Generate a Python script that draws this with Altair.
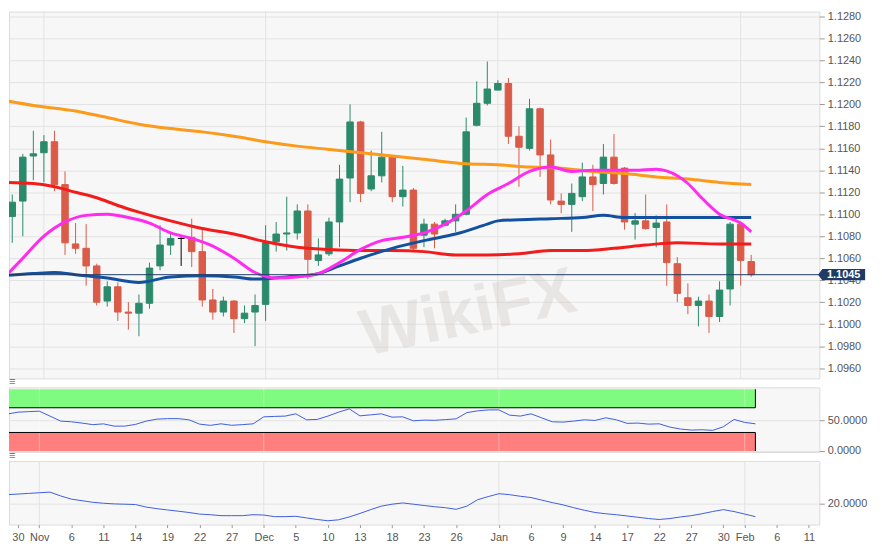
import altair as alt
import pandas as pd

# ---------------- data ----------------
dates = ["2019-10-29", "2019-10-30", "2019-10-31", "2019-11-01", "2019-11-04", "2019-11-05",
         "2019-11-06", "2019-11-07", "2019-11-08", "2019-11-11", "2019-11-12", "2019-11-13",
         "2019-11-14", "2019-11-15", "2019-11-18", "2019-11-19", "2019-11-20", "2019-11-21",
         "2019-11-22", "2019-11-25", "2019-11-26", "2019-11-27", "2019-11-28", "2019-11-29",
         "2019-12-02", "2019-12-03", "2019-12-04", "2019-12-05", "2019-12-06", "2019-12-09",
         "2019-12-10", "2019-12-11", "2019-12-12", "2019-12-13", "2019-12-16", "2019-12-17",
         "2019-12-18", "2019-12-19", "2019-12-20", "2019-12-23", "2019-12-24", "2019-12-25",
         "2019-12-26", "2019-12-27", "2019-12-30", "2019-12-31", "2020-01-01", "2020-01-02",
         "2020-01-03", "2020-01-06", "2020-01-07", "2020-01-08", "2020-01-09", "2020-01-10",
         "2020-01-13", "2020-01-14", "2020-01-15", "2020-01-16", "2020-01-17", "2020-01-20",
         "2020-01-21", "2020-01-22", "2020-01-23", "2020-01-24", "2020-01-27", "2020-01-28",
         "2020-01-29", "2020-01-30", "2020-01-31", "2020-02-03", "2020-02-04"]

opens = [1.1098, 1.1112, 1.1153, 1.1156, 1.1166, 1.1127, 1.1073, 1.1069, 1.1053, 1.1021,
         1.1034, 1.1011, 1.1010, 1.1019, 1.1053, 1.1072, 1.1078, 1.1079, 1.1066, 1.1022,
         1.1011, 1.1021, 1.1005, 1.1011, 1.1018, 1.1075, 1.1082, 1.1083, 1.1103, 1.1058,
         1.1064, 1.1093, 1.1133, 1.1184, 1.1123, 1.1135, 1.1152, 1.1116, 1.1122, 1.1081,
         1.1091, 1.1090, 1.1094, 1.1100, 1.1181, 1.1201, 1.1213, 1.1219, 1.1171, 1.1160,
         1.1196, 1.1154, 1.1112, 1.1109, 1.1116, 1.1134, 1.1128, 1.1152, 1.1142, 1.1091,
         1.1094, 1.1088, 1.1093, 1.1055, 1.1024, 1.1017, 1.1021, 1.1007, 1.1032, 1.1091,
         1.1057]
highs = [1.1118, 1.1155, 1.1176, 1.1172, 1.1176, 1.1139, 1.1092, 1.1091, 1.1055, 1.1039,
         1.1038, 1.1020, 1.1027, 1.1056, 1.1090, 1.1082, 1.1079, 1.1096, 1.1087, 1.1032,
         1.1025, 1.1022, 1.1017, 1.1027, 1.1090, 1.1093, 1.1116, 1.1109, 1.1109, 1.1078,
         1.1097, 1.1145, 1.1200, 1.1185, 1.1158, 1.1175, 1.1153, 1.1144, 1.1124, 1.1096,
         1.1093, 1.1096, 1.1109, 1.1188, 1.1221, 1.1239, 1.1222, 1.1224, 1.1180, 1.1205,
         1.1197, 1.1168, 1.1119, 1.1128, 1.1147, 1.1145, 1.1164, 1.1173, 1.1143, 1.1101,
         1.1118, 1.1099, 1.1109, 1.1061, 1.1037, 1.1025, 1.1027, 1.1039, 1.1093, 1.1093,
         1.1063]
lows = [1.1074, 1.1080, 1.1131, 1.1129, 1.1121, 1.1063, 1.1064, 1.1035, 1.1017, 1.1016,
        1.1003, 1.0995, 1.0989, 1.1014, 1.1049, 1.1063, 1.1053, 1.1052, 1.1016, 1.1004,
        1.1007, 1.0992, 1.1001, 1.0980, 1.1003, 1.1066, 1.1067, 1.1077, 1.1041, 1.1053,
        1.1062, 1.1070, 1.1111, 1.1111, 1.1121, 1.1129, 1.1111, 1.1107, 1.1067, 1.1070,
        1.1069, 1.1089, 1.1084, 1.1099, 1.1180, 1.1199, 1.1213, 1.1164, 1.1125, 1.1158,
        1.1134, 1.1109, 1.1101, 1.1084, 1.1112, 1.1103, 1.1118, 1.1127, 1.1086, 1.1077,
        1.1086, 1.1070, 1.1035, 1.1020, 1.1009, 1.0998, 1.0992, 1.1002, 1.1017, 1.1035,
        1.1043]
closes = [1.1111, 1.1152, 1.1155, 1.1166, 1.1127, 1.1074, 1.1069, 1.1053, 1.1020, 1.1034,
          1.1011, 1.1010, 1.1019, 1.1051, 1.1072, 1.1078, 1.1078, 1.1066, 1.1022, 1.1011,
          1.1021, 1.1005, 1.1010, 1.1017, 1.1074, 1.1082, 1.1083, 1.1103, 1.1059, 1.1063,
          1.1093, 1.1132, 1.1184, 1.1119, 1.1135, 1.1152, 1.1116, 1.1122, 1.1069, 1.1091,
          1.1082, 1.1094, 1.1100, 1.1175, 1.1201, 1.1214, 1.1219, 1.1171, 1.1161, 1.1196,
          1.1154, 1.1113, 1.1109, 1.1119, 1.1134, 1.1127, 1.1152, 1.1128, 1.1093, 1.1094,
          1.1087, 1.1092, 1.1056, 1.1028, 1.1017, 1.1021, 1.1007, 1.1031, 1.1091, 1.1058,
          1.1045]

# moving averages (point index, value)
ma200_idx = [-2, 1, 5, 8, 11, 14, 17, 20, 23, 26, 29, 32, 35, 38, 42, 45, 48, 51, 54, 57, 60, 63, 66, 69]
ma200 = [1.1204, 1.1199, 1.1194, 1.1188, 1.1182, 1.1178, 1.1175, 1.1171, 1.1166, 1.1162, 1.1159,
         1.1156, 1.1153, 1.1150, 1.1146, 1.1145, 1.1143, 1.1142, 1.1139, 1.1137, 1.1134, 1.1132,
         1.1129, 1.1127]
ma100_idx = [-2, 1, 3, 5, 7, 9, 11, 14, 17, 20, 23, 26, 29, 32, 35, 38, 41, 44, 47, 50, 53, 56, 59, 62, 66, 69]
ma100 = [1.1129, 1.1128, 1.1125, 1.1120, 1.1115, 1.1108, 1.1102, 1.1094, 1.1087, 1.1082, 1.1075,
         1.1070, 1.1068, 1.1067, 1.1067, 1.1066, 1.1063, 1.1063, 1.1064, 1.1067, 1.1067, 1.1069,
         1.1072, 1.1074, 1.1073, 1.1073]
ma55_idx = [-2, 1, 3, 5, 8, 11, 14, 17, 20, 22, 25, 28, 30, 32, 35, 38, 41, 44, 45, 47, 50, 53, 55, 57, 60, 64, 69]
ma55 = [1.1044, 1.1046, 1.1047, 1.1045, 1.1042, 1.1038, 1.1043, 1.1044, 1.1043, 1.1041, 1.1043,
        1.1046, 1.1053, 1.1060, 1.1069, 1.1076, 1.1082, 1.1091, 1.1094, 1.1095, 1.1096, 1.1097,
        1.1099, 1.1097, 1.1097, 1.1097, 1.1097]
ma20_idx = [-2, 0, 2, 4, 6, 8, 10, 12, 14, 16, 18, 20, 22, 24, 26, 28, 30, 32, 34, 36, 38, 40,
            42, 44, 46, 48, 50, 52, 54, 56, 58, 60, 62, 63, 64, 66, 68, 69]
ma20 = [1.1040, 1.1060, 1.1080, 1.1093, 1.1099, 1.1100, 1.1097, 1.1092, 1.1083, 1.1078, 1.1071,
        1.1060, 1.1047, 1.1042, 1.1043, 1.1046, 1.1056, 1.1068, 1.1076, 1.1079, 1.1083, 1.1091,
        1.1103, 1.1118, 1.1128, 1.1139, 1.1143, 1.1139, 1.1140, 1.1140, 1.1140, 1.1141, 1.1135,
        1.1128, 1.1118, 1.1100, 1.1092, 1.1084]

# oscillators, one value per trading day starting two days before the first candle
rsi_vals = [55.6, 59.7, 62.9, 63.7, 64.5, 56.5, 48.4, 47.3, 45.2, 42.7, 43.9, 40.3, 40.3, 43.1,
            48.4, 51.6, 52.4, 52.4, 50.5, 43.5, 41.5, 44.0, 41.6, 42.7, 44.0, 55.3, 56.0, 56.5,
            60.2, 50.5, 51.1, 56.5, 62.9, 68.2, 56.9, 58.5, 60.2, 54.8, 55.3, 48.9, 50.0, 49.7,
            50.8, 52.1, 62.1, 65.0, 66.5, 66.6, 58.1, 56.5, 60.2, 53.7, 47.3, 46.8, 48.4, 50.5,
            49.5, 53.7, 50.5, 44.7, 45.2, 43.5, 44.0, 38.7, 35.5, 33.9, 34.4, 33.4, 39.2, 51.1,
            46.3, 44.0]
adx_vals = [22.7, 22.9, 23.1, 23.3, 23.5, 23.7, 22.5, 21.5, 21.0, 20.5, 20.2, 20.0, 19.9, 19.8,
            19.0, 18.5, 18.1, 17.7, 17.3, 16.8, 16.6, 16.3, 16.3, 16.3, 16.6, 16.5, 16.0, 16.0,
            16.1, 15.6, 15.1, 14.7, 15.0, 15.9, 17.0, 18.2, 19.3, 19.9, 20.3, 19.9, 19.5, 19.1,
            18.8, 18.3, 19.3, 21.3, 22.3, 23.2, 22.9, 22.4, 22.0, 21.2, 20.4, 19.7, 18.8, 18.0,
            17.3, 16.9, 16.6, 16.2, 15.8, 15.4, 15.1, 15.4, 15.9, 16.3, 16.9, 17.6, 18.2, 17.6,
            16.8, 16.0]

tick_idx = [0, 2, 5, 8, 11, 14, 17, 20, 23, 26, 29, 32, 35, 38, 41, 45, 48, 51, 54, 57, 60,
            63, 66, 68, 71, 74]
tick_lab = ["30", "Nov", "6", "11", "14", "19", "22", "27", "Dec", "5", "10", "13", "18", "23",
            "26", "Jan", "6", "9", "14", "17", "22", "27", "30", "Feb", "6", "11"]
month_idx = [2, 23, 45, 68]
price_ticks = [1.0960, 1.0980, 1.1000, 1.1020, 1.1040, 1.1060, 1.1080, 1.1100, 1.1120,
               1.1140, 1.1160, 1.1180, 1.1200, 1.1220, 1.1240, 1.1260, 1.1280]
rsi_ticks = [0, 50]
adx_ticks = [20]
last_price = 1.1045
overbought = {"lo": [70], "hi": [100], "edge": [70]}
oversold = {"lo": [0], "hi": [30], "edge": [30]}

# ---------------- styling ----------------
FONT = "Liberation Sans"
GREEN = "#2b8a6b"
RED = "#d95b48"
NAVY = "#1f3b63"
OSC_BLUE = "#3d5ee0"
GRID = "#e3e3e3"

W = 815
XS = alt.Scale(domain=[-0.837, 74.98], nice=False, zero=False)
YS = alt.Scale(domain=[1.09506, 1.12845], nice=False, zero=False)
RS = alt.Scale(domain=[-1.6, 103], nice=False, zero=False)
AS = alt.Scale(domain=[13.5, 33.5], nice=False, zero=False)

yax = alt.Axis(orient="right", values=price_ticks, format=".4f", tickSize=5, labelPadding=3,
               grid=True, title=None)
rax = alt.Axis(orient="right", values=rsi_ticks, format=".4f", tickSize=5, labelPadding=3,
               grid=True, title=None)
aax = alt.Axis(orient="right", values=adx_ticks, format=".4f", tickSize=5, labelPadding=3,
               grid=True, title=None)

vals_js = "[" + ",".join(str(v) for v in tick_idx) + "]"
labs_js = "[" + ",".join("'" + s + "'" for s in tick_lab) + "]"
xax_bottom = alt.Axis(values=tick_idx, labelExpr=f"{labs_js}[indexof({vals_js}, datum.value)]",
                      grid=False, tickSize=3, labelPadding=4, domain=False, title=None,
                      labelOverlap=False, labelFlush=False)


def X(axis=None, field="idx:Q"):
    return alt.X(field, scale=XS, axis=axis)


n = len(dates)
cdf = pd.DataFrame({"idx": list(range(-1, n - 1)), "date": dates, "open": opens,
                    "high": highs, "low": lows, "close": closes})
cdf["dir"] = ["up" if c > o else ("down" if c < o else "flat") for o, c in zip(opens, closes)]
cscale = alt.Scale(domain=["up", "down", "flat"], range=[GREEN, RED, "#000000"])
mdf = pd.DataFrame({"idx": month_idx})
first_idx = -2
last_idx = n - 2

# ---------------- main price panel ----------------
months_main = alt.Chart(mdf).mark_rule(color=GRID, strokeWidth=1).encode(x=X())
wick = alt.Chart(cdf).mark_rule(strokeWidth=1, clip=True).encode(
    x=X(), y=alt.Y("low:Q", scale=YS, axis=yax), y2="high:Q",
    color=alt.Color("dir:N", scale=cscale, legend=None))
body = alt.Chart(cdf).mark_bar(width=6.5, clip=True, strokeWidth=1).encode(
    x=X(), y=alt.Y("open:Q", scale=YS, axis=yax), y2="close:Q",
    color=alt.Color("dir:N", scale=cscale, legend=None),
    stroke=alt.Stroke("dir:N", scale=cscale, legend=None))


def ma_line(ix, vals, color):
    df = pd.DataFrame({"idx": ix, "v": vals})
    return alt.Chart(df).mark_line(color=color, strokeWidth=3, clip=True,
                                   interpolate="monotone").encode(
        x=X(), y=alt.Y("v:Q", scale=YS, axis=yax))


l200 = ma_line(ma200_idx, ma200, "#fb9a1b")
l100 = ma_line(ma100_idx, ma100, "#f21c1c")
l55 = ma_line(ma55_idx, ma55, "#1450a0")
l20 = ma_line(ma20_idx, ma20, "#ff2cf0")

pdf = pd.DataFrame({"p": [last_price]})
prule = alt.Chart(pdf).mark_rule(color=NAVY, strokeWidth=1).encode(
    y=alt.Y("p:Q", scale=YS, axis=yax))
BOX = "M -1 0 L -0.82 -0.24 L 1 -0.24 L 1 0.24 L -0.82 0.24 Z"
pbox = alt.Chart(pdf).mark_point(shape=BOX, size=2237, filled=True, fill=NAVY, opacity=1,
                                 strokeWidth=0).encode(
    x=alt.value(837.4), y=alt.Y("p:Q", scale=YS, axis=yax))
ptxt = alt.Chart(pdf).mark_text(color="white", fontWeight="bold", fontSize=11, font=FONT,
                                align="center", baseline="middle").encode(
    x=alt.value(839.5), y=alt.Y("p:Q", scale=YS, axis=yax), text=alt.Text("p:Q", format=".4f"))
wm = alt.Chart(pd.DataFrame({"t": ["WikiFX"]})).mark_text(
    font=FONT, fontSize=66, fontWeight="bold", color="#c9c1b9", opacity=0.3, angle=348,
    align="center", baseline="middle").encode(x=alt.value(462), y=alt.value(304), text="t:N")

main = alt.layer(months_main, wick, body, wm, l200, l100, l55, l20, prule, pbox, ptxt).properties(
    width=W, height=369)


# ---------------- RSI panel ----------------
def band_layers(spec, fill):
    bdf = pd.DataFrame(spec)
    bdf["x0"] = first_idx
    bdf["x1"] = last_idx
    rect = alt.Chart(bdf).mark_rect(clip=True, color=fill).encode(
        x=X(field="x0:Q"), x2="x1:Q", y=alt.Y("lo:Q", scale=RS, axis=rax), y2="hi:Q")
    hedge = alt.Chart(bdf).mark_rule(color="#000000", strokeWidth=1, clip=True).encode(
        x=X(field="x0:Q"), x2="x1:Q", y=alt.Y("edge:Q", scale=RS, axis=rax))
    vedge = alt.Chart(bdf).mark_rule(color="#000000", strokeWidth=1, clip=True).encode(
        x=X(field="x1:Q"), y=alt.Y("lo:Q", scale=RS, axis=rax), y2="hi:Q")
    return [rect, hedge, vedge]


ob_layers = band_layers(overbought, "#7ffb7f")
os_layers = band_layers(oversold, "#ff7f7f")
months_rsi = alt.Chart(mdf).mark_rule(color="#ffffff", strokeWidth=1, opacity=0.35).encode(x=X())
rdf = pd.DataFrame({"idx": list(range(first_idx, first_idx + len(rsi_vals))), "v": rsi_vals})
rline = alt.Chart(rdf).mark_line(color=OSC_BLUE, strokeWidth=1, clip=True).encode(
    x=X(), y=alt.Y("v:Q", scale=RS, axis=rax))
icon = alt.Chart(pd.DataFrame({"t": ["\u2261"]})).mark_text(
    fontSize=11, color="#777777", align="left", baseline="middle").encode(
    x=alt.value(0), y=alt.value(-5), text="t:N")
rsi = alt.layer(ob_layers[0], os_layers[0], months_rsi, ob_layers[1], ob_layers[2],
                os_layers[1], os_layers[2], rline, icon).properties(width=W, height=65)

# ---------------- ADX panel ----------------
months_adx = alt.Chart(mdf).mark_rule(color=GRID, strokeWidth=1).encode(x=X(axis=xax_bottom))
adf = pd.DataFrame({"idx": list(range(first_idx, first_idx + len(adx_vals))), "v": adx_vals})
aline = alt.Chart(adf).mark_line(color=OSC_BLUE, strokeWidth=1, clip=True).encode(
    x=X(axis=xax_bottom), y=alt.Y("v:Q", scale=AS, axis=aax))
icon2 = alt.Chart(pd.DataFrame({"t": ["\u2261"]})).mark_text(
    fontSize=11, color="#777777", align="left", baseline="middle").encode(
    x=alt.value(0), y=alt.value(-5), text="t:N")
adx = alt.layer(months_adx, aline, icon2).properties(width=W, height=64)

chart = alt.vconcat(main, rsi, adx, spacing=9, bounds="flush").properties(
    padding={"left": 0, "top": 0, "right": 6, "bottom": 4}
).configure_view(fill="#f7f7f7", stroke="#dcdcdc", strokeWidth=1).configure_axis(
    labelFont=FONT, labelFontSize=11, labelColor="#555555", tickColor="#999999",
    gridColor=GRID, domain=False)

chart.save("out.html", embed_options={"renderer": "svg", "actions": False})
